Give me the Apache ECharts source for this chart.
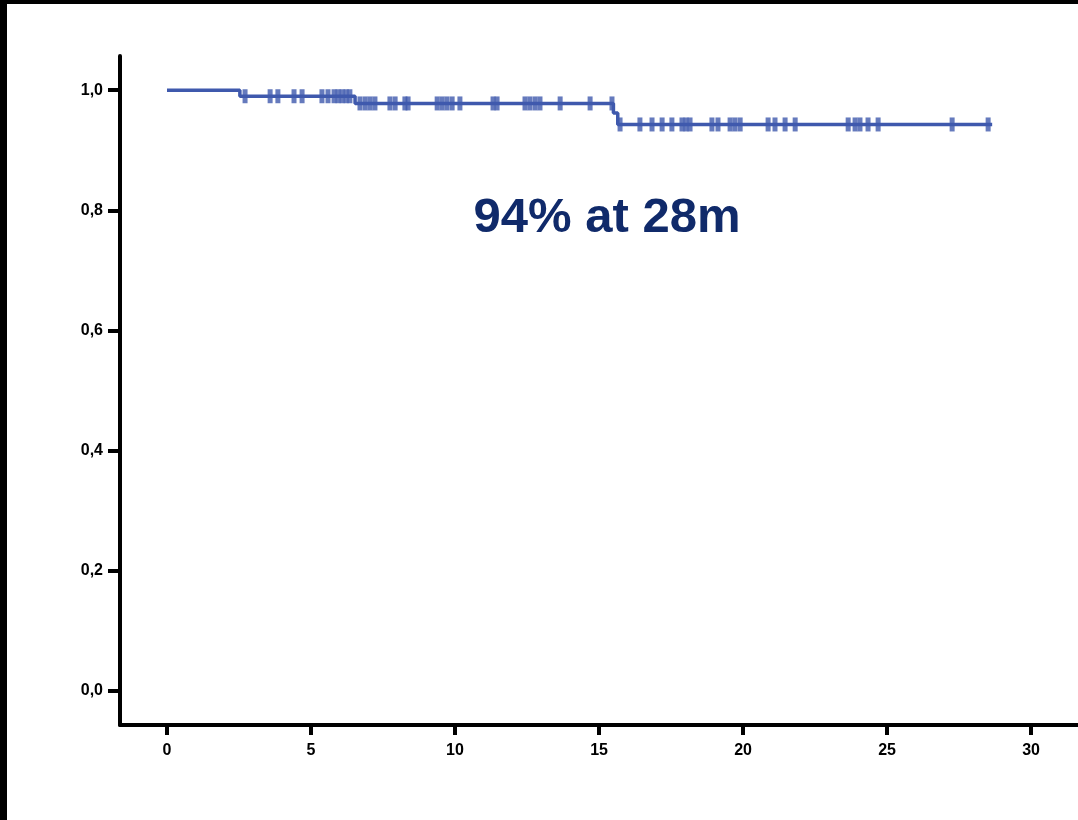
<!DOCTYPE html>
<html>
<head>
<meta charset="utf-8">
<script src="https://cdn.jsdelivr.net/npm/echarts@6/dist/echarts.min.js"></script>
<style>
  html, body { margin: 0; padding: 0; background: #fff; }
  #chart { width: 1078px; height: 820px; }
</style>
</head>
<body>
<div id="chart"></div>
<script>
// survival curve: [month, survival] at each event step
const curve = [
  [0, 1.0], [2.53, 0.99], [6.53, 0.978], [15.5, 0.962], [15.65, 0.943], [28.65, 0.943]
];
// censored observations (months) for each plateau
const censor1 = [2.71, 3.58, 3.85, 4.41, 4.69, 5.38, 5.59, 5.8, 5.94, 6.08, 6.22, 6.35];
const censor2 = [6.7, 6.88, 7.05, 7.22, 7.74, 7.92, 8.26, 8.37, 9.38, 9.55, 9.72, 9.9, 10.17,
  11.32, 11.46, 12.43, 12.6, 12.78, 12.95, 13.65, 14.69, 15.45];
const censor3 = [15.73, 16.42, 16.84, 17.19, 17.53, 17.88, 18.02, 18.16, 18.92, 19.13, 19.55,
  19.72, 19.9, 20.87, 21.11, 21.46, 21.81, 23.65, 23.89, 24.06, 24.34, 24.69, 27.26, 28.51];
const xTicks = [0, 5, 10, 15, 20, 25, 30];
const yTicks = [0, 0.2, 0.4, 0.6, 0.8, 1.0];

const censorPts = [
  ...censor1.map(t => [t, 0.99]),
  ...censor2.map(t => [t, 0.978]),
  ...censor3.map(t => [t, 0.943])
];

const lineColor = '#3f59ad';
const chart = echarts.init(document.getElementById('chart'), null, { renderer: 'canvas' });

const option = {
  animation: false,
  backgroundColor: '#fff',
  grid: { left: 120, right: 0, top: 56, bottom: 95 },
  xAxis: {
    type: 'value',
    min: -1.632,
    max: 31.63,
    splitLine: { show: false },
    axisLine: { onZero: false, lineStyle: { color: '#000', width: 4 } },
    axisTick: { show: true, length: 10, lineStyle: { color: '#000', width: 4 }, customValues: xTicks },
    axisLabel: {
      customValues: xTicks, margin: 18, color: '#000',
      fontFamily: 'Liberation Sans, Arial', fontWeight: 'bold', fontSize: 16
    }
  },
  yAxis: {
    type: 'value',
    min: -0.057,
    max: 1.057,
    splitLine: { show: false },
    axisLine: { onZero: false, lineStyle: { color: '#000', width: 4 } },
    axisTick: { show: true, length: 12, lineStyle: { color: '#000', width: 4 }, customValues: yTicks },
    axisLabel: {
      customValues: yTicks, margin: 17, color: '#000',
      fontFamily: 'Liberation Sans, Arial', fontWeight: 'bold', fontSize: 16,
      formatter: v => v.toFixed(1).replace('.', ',')
    }
  },
  series: [
    {
      type: 'line',
      step: 'end',
      data: curve,
      symbol: 'none',
      lineStyle: { color: lineColor, width: 3.5 }
    },
    {
      type: 'scatter',
      data: censorPts,
      symbol: 'rect',
      symbolSize: [5, 14],
      itemStyle: { color: lineColor }
    }
  ],
  graphic: [
    { type: 'rect', left: 0, top: 0, shape: { width: 1078, height: 4 }, style: { fill: '#000' } },
    { type: 'rect', left: 0, top: 0, shape: { width: 7, height: 820 }, style: { fill: '#000' } },
    {
      type: 'text', x: 607, y: 218,
      style: {
        text: '94% at 28m', fill: '#102a6a',
        font: 'bold 49px "Liberation Sans", Arial',
        align: 'center', verticalAlign: 'middle'
      }
    }
  ]
};
chart.setOption(option);
</script>
</body>
</html>
